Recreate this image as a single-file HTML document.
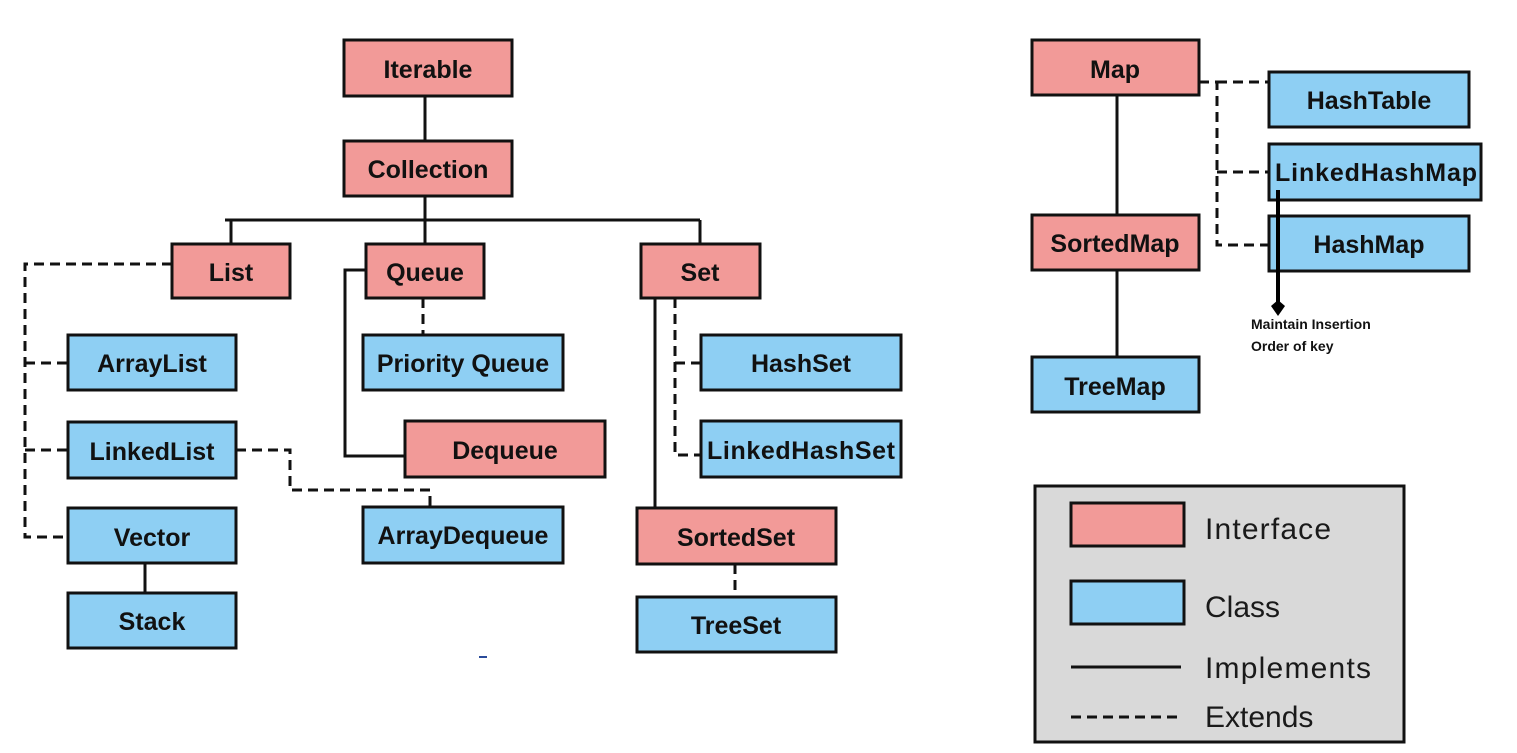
<!DOCTYPE html>
<html><head><meta charset="utf-8"><style>
html,body{margin:0;padding:0;background:#fff;}
svg{display:block;}
text{font-family:"Liberation Sans",sans-serif;}
.b{font-weight:bold;font-size:25px;fill:#111;text-anchor:middle;dominant-baseline:central;}
.p{fill:#f29a98;stroke:#111;stroke-width:3;}
.c{fill:#8ecff3;stroke:#111;stroke-width:3;}
.s{stroke:#111;stroke-width:3;fill:none;}
.d{stroke:#111;stroke-width:3;fill:none;stroke-dasharray:10,6;}
.l{font-size:30px;fill:#1a1a1a;}
</style></head><body>
<svg width="1517" height="753" viewBox="0 0 1517 753">
<path class="s" d="M425 96V141M425 196V220M225 220H700M231 220V244M425 220V244M700 220V244"/>
<path class="d" d="M172 264H25V537H68M25 363H68M25 450H68"/>
<path class="s" d="M366 270H345V456H405"/>
<path class="d" d="M423 298V335"/>
<path class="d" d="M236 450H290V490H430V507"/>
<path class="s" d="M655 298V508"/>
<path class="d" d="M675 298V455H701M675 363H701"/>
<path class="d" d="M735 564V597"/>
<path class="s" d="M145 563V593"/>
<path class="s" d="M1117 95V215M1117 270V357"/>
<path class="d" d="M1199 82H1217V245H1269M1217 82H1269M1217 172H1269"/>
<rect class="p" x="344" y="40" width="168" height="56"/><text class="b" x="428" y="70">Iterable</text>
<rect class="p" x="344" y="141" width="168" height="55"/><text class="b" x="428" y="170">Collection</text>
<rect class="p" x="172" y="244" width="118" height="54"/><text class="b" x="231" y="273">List</text>
<rect class="p" x="366" y="244" width="118" height="54"/><text class="b" x="425" y="273">Queue</text>
<rect class="p" x="641" y="244" width="119" height="54"/><text class="b" x="700" y="273">Set</text>
<rect class="c" x="68" y="335" width="168" height="55"/><text class="b" x="152" y="364">ArrayList</text>
<rect class="c" x="363" y="335" width="200" height="55"/><text class="b" x="463" y="364">Priority Queue</text>
<rect class="c" x="701" y="335" width="200" height="55"/><text class="b" x="801" y="364">HashSet</text>
<rect class="c" x="68" y="422" width="168" height="56"/><text class="b" x="152" y="452">LinkedList</text>
<rect class="p" x="405" y="421" width="200" height="56"/><text class="b" x="505" y="451">Dequeue</text>
<rect class="c" x="701" y="421" width="200" height="56"/><text class="b" x="801" y="451" textLength="188">LinkedHashSet</text>
<rect class="c" x="68" y="508" width="168" height="55"/><text class="b" x="152" y="538">Vector</text>
<rect class="c" x="363" y="507" width="200" height="56"/><text class="b" x="463" y="536">ArrayDequeue</text>
<rect class="p" x="637" y="508" width="199" height="56"/><text class="b" x="736" y="538">SortedSet</text>
<rect class="c" x="68" y="593" width="168" height="55"/><text class="b" x="152" y="622">Stack</text>
<rect class="c" x="637" y="597" width="199" height="55"/><text class="b" x="736" y="626">TreeSet</text>
<rect class="p" x="1032" y="40" width="167" height="55"/><text class="b" x="1115" y="70">Map</text>
<rect class="c" x="1269" y="72" width="200" height="55"/><text class="b" x="1369" y="101">HashTable</text>
<rect class="c" x="1269" y="144" width="212" height="56"/><text class="b" x="1376" y="173" textLength="202">LinkedHashMap</text>
<rect class="c" x="1269" y="216" width="200" height="55"/><text class="b" x="1369" y="245">HashMap</text>
<rect class="p" x="1032" y="215" width="167" height="55"/><text class="b" x="1115" y="244">SortedMap</text>
<rect class="c" x="1032" y="357" width="167" height="55"/><text class="b" x="1115" y="387">TreeMap</text>
<path d="M1278 190V306" stroke="#000" stroke-width="4"/>
<path d="M1271 306L1278 316L1285 306L1278 300Z" fill="#000"/>
<text x="1251" y="329" font-size="14" font-weight="bold" fill="#111">Maintain Insertion</text>
<text x="1251" y="351" font-size="14" font-weight="bold" fill="#111">Order of key</text>
<rect x="479" y="656" width="8" height="2" fill="#2a4b9a"/>
<rect x="1035" y="486" width="369" height="256" fill="#d9d9d9" stroke="#111" stroke-width="3"/>
<rect class="p" x="1071" y="503" width="113" height="43"/>
<rect class="c" x="1071" y="581" width="113" height="43"/>
<path class="s" d="M1071 667H1181"/>
<path class="d" d="M1071 717H1181"/>
<text class="l" x="1205" y="539" textLength="126">Interface</text>
<text class="l" x="1205" y="617">Class</text>
<text class="l" x="1205" y="678" textLength="166">Implements</text>
<text class="l" x="1205" y="727">Extends</text>
</svg>
</body></html>
